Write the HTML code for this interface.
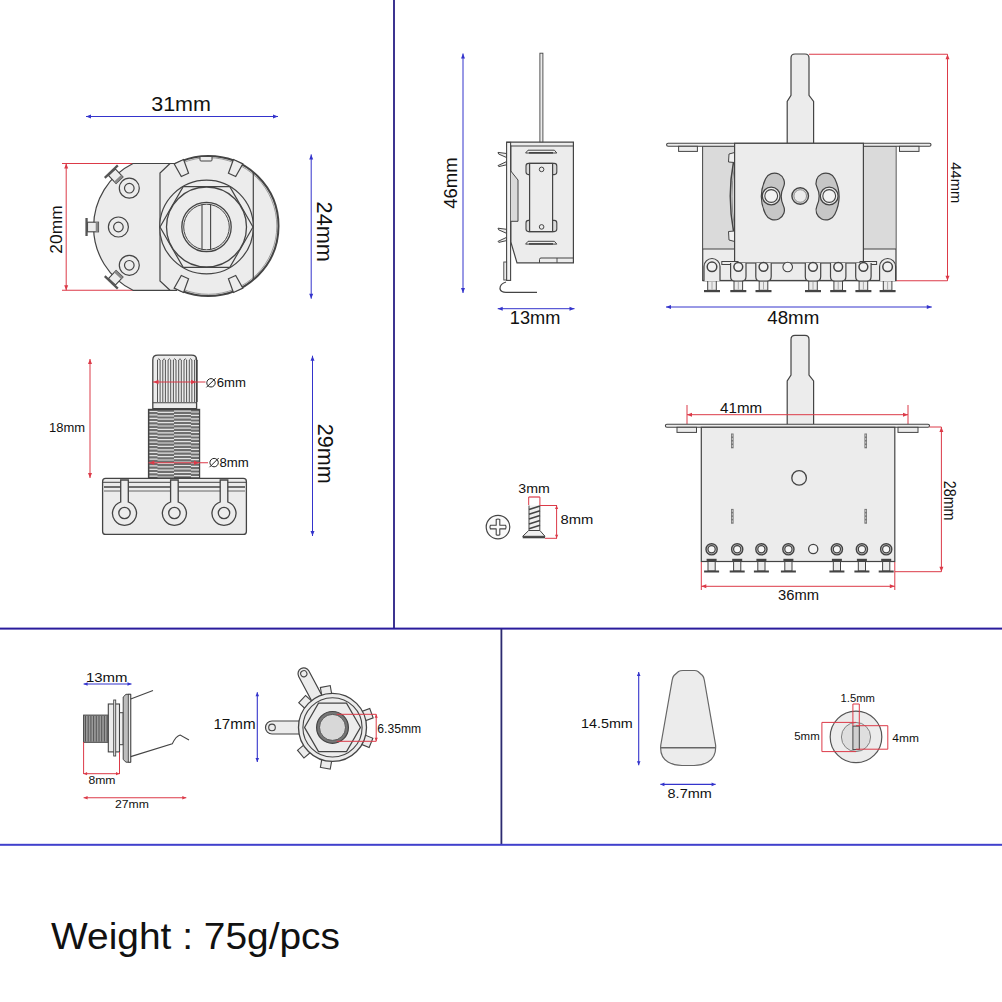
<!DOCTYPE html>
<html><head><meta charset="utf-8"><style>
html,body{margin:0;padding:0;background:#fff;}
svg{display:block;}
text{font-family:"Liberation Sans",sans-serif;}
</style></head><body>
<svg width="1002" height="1002" viewBox="0 0 1002 1002">
<rect width="1002" height="1002" fill="#fff"/>
<rect x="393" y="0" width="2" height="629" fill="#3c3490"/>
<rect x="0" y="627.6" width="1002" height="2" fill="#2a1c9c"/>
<rect x="500.5" y="629" width="1.8" height="216" fill="#2c2a70"/>
<rect x="0" y="843.8" width="1002" height="2" fill="#4040cc"/>
<line x1="86" y1="116.5" x2="278" y2="116.5" stroke="#3434cc" stroke-width="1.0"/>
<path d="M86,116.5 l5,-2.0 v4.0z M278,116.5 l-5,-2.0 v4.0z" fill="#3434cc"/>
<text x="151.2" y="110.9" font-size="21" text-anchor="start" fill="#111" textLength="59.8" lengthAdjust="spacingAndGlyphs">31mm</text>
<line x1="62" y1="163.5" x2="133" y2="163.5" stroke="#dc3a48" stroke-width="1.1"/>
<line x1="62" y1="290.3" x2="133" y2="290.3" stroke="#dc3a48" stroke-width="1.1"/>
<line x1="66.2" y1="163.5" x2="66.2" y2="290.3" stroke="#dc3a48" stroke-width="1.0"/>
<path d="M66.2,163.5 l-2.0,5 h4.0z M66.2,290.3 l-2.0,-5 h4.0z" fill="#dc3a48"/>
<text transform="translate(62,229.5) rotate(-90)" x="0" y="0" font-size="17.2" text-anchor="middle" fill="#111" textLength="48.3" lengthAdjust="spacingAndGlyphs">20mm</text>
<line x1="311.2" y1="154.4" x2="311.2" y2="298.7" stroke="#3434cc" stroke-width="1.0"/>
<path d="M311.2,154.4 l-2.0,5 h4.0z M311.2,298.7 l-2.0,-5 h4.0z" fill="#3434cc"/>
<text transform="translate(316.8,231.7) rotate(90)" x="0" y="0" font-size="22" text-anchor="middle" fill="#111" textLength="60.2" lengthAdjust="spacingAndGlyphs">24mm</text>
<circle cx="208.5" cy="226" r="70" fill="#ececec" stroke="#444444" stroke-width="2"/>
<circle cx="208.5" cy="226" r="68.3" fill="none" stroke="#888" stroke-width="0.8"/>
<path d="M177,163.5 L133,163.5 A70.7,70.7 0 0 0 133,290.3 L177,290.3 L177,163.5 Z" fill="#ececec" stroke="none"/>
<path d="M177,163.5 L133,163.5 A70.7,70.7 0 0 0 133,290.3 L177,290.3" fill="none" stroke="#444444" stroke-width="1.2"/>
<path d="M170,163.5 L160,173 L160,281 L170,290.3" fill="none" stroke="#444444" stroke-width="1.2"/>
<line x1="253.3" y1="172" x2="253.3" y2="280" stroke="#444444" stroke-width="1.2"/>
<g transform="translate(182.0,168.5) rotate(-24.700000000000003)"><path d="M-5.2,-7.5 L5.2,-7.5 L4,7 L-4,7 Z" fill="#ececec" stroke="#444444" stroke-width="1.2"/></g>
<g transform="translate(235.0,168.5) rotate(24.700000000000003)"><path d="M-5.2,-7.5 L5.2,-7.5 L4,7 L-4,7 Z" fill="#ececec" stroke="#444444" stroke-width="1.2"/></g>
<g transform="translate(182.0,283.5) rotate(204.7)"><path d="M-5.2,-7.5 L5.2,-7.5 L4,7 L-4,7 Z" fill="#ececec" stroke="#444444" stroke-width="1.2"/></g>
<g transform="translate(235.0,283.5) rotate(155.3)"><path d="M-5.2,-7.5 L5.2,-7.5 L4,7 L-4,7 Z" fill="#ececec" stroke="#444444" stroke-width="1.2"/></g>
<path d="M200,157 L200,160 Q200,161 201,161 L211,161 Q212,161 212,160 L212,157" fill="#ececec" stroke="#444444" stroke-width="1"/>
<circle cx="206.5" cy="227" r="46.8" fill="#ececec" stroke="#444444" stroke-width="1.2"/>
<polygon points="253.0,227.0 229.8,267.3 183.2,267.3 160.0,227.0 183.2,186.7 229.8,186.7" fill="#ececec" stroke="#444444" stroke-width="1.2"/>
<circle cx="206.5" cy="227" r="40" fill="#ececec" stroke="#444444" stroke-width="1.3"/>
<circle cx="206.5" cy="227" r="24.7" fill="#ececec" stroke="#444444" stroke-width="1.3"/>
<circle cx="206.5" cy="227" r="22.8" fill="none" stroke="#444444" stroke-width="1"/>
<line x1="202" y1="204.5" x2="202" y2="249.5" stroke="#444444" stroke-width="1.1"/>
<line x1="210.6" y1="204.5" x2="210.6" y2="249.5" stroke="#444444" stroke-width="1.1"/>
<circle cx="129.3" cy="188.2" r="10" fill="#ececec" stroke="#444444" stroke-width="1.2"/>
<circle cx="129.3" cy="188.2" r="4.8" fill="#ececec" stroke="#444444" stroke-width="1.2"/>
<circle cx="118.4" cy="227" r="10" fill="#ececec" stroke="#444444" stroke-width="1.2"/>
<circle cx="118.4" cy="227" r="4.8" fill="#ececec" stroke="#444444" stroke-width="1.2"/>
<circle cx="129.3" cy="265.3" r="10" fill="#ececec" stroke="#444444" stroke-width="1.2"/>
<circle cx="129.3" cy="265.3" r="4.8" fill="#ececec" stroke="#444444" stroke-width="1.2"/>
<g transform="translate(86.7,227) rotate(0)"><rect x="0.8" y="-4.8" width="11" height="9.6" fill="#ececec" stroke="#444444" stroke-width="1.1"/><rect x="9" y="-4.8" width="2.8" height="9.6" fill="#888"/><rect x="-1.3" y="-9" width="2.3" height="18" fill="#555"/></g>
<g transform="translate(111.4,171.7) rotate(46.4)"><rect x="0.8" y="-4.8" width="11" height="9.6" fill="#ececec" stroke="#444444" stroke-width="1.1"/><rect x="9" y="-4.8" width="2.8" height="9.6" fill="#888"/><rect x="-1.3" y="-9" width="2.3" height="18" fill="#555"/></g>
<g transform="translate(111.4,282.3) rotate(-46.4)"><rect x="0.8" y="-4.8" width="11" height="9.6" fill="#ececec" stroke="#444444" stroke-width="1.1"/><rect x="9" y="-4.8" width="2.8" height="9.6" fill="#888"/><rect x="-1.3" y="-9" width="2.3" height="18" fill="#555"/></g>
<line x1="90" y1="359" x2="90" y2="478" stroke="#dc3a48" stroke-width="1.0"/>
<path d="M90,359 l-2.0,5 h4.0z M90,478 l-2.0,-5 h4.0z" fill="#dc3a48"/>
<text x="49" y="431.5" font-size="13.3" text-anchor="start" fill="#111" textLength="36" lengthAdjust="spacingAndGlyphs">18mm</text>
<line x1="312.5" y1="355.7" x2="312.5" y2="536" stroke="#3434cc" stroke-width="1.0"/>
<path d="M312.5,355.7 l-2.0,5 h4.0z M312.5,536 l-2.0,-5 h4.0z" fill="#3434cc"/>
<text transform="translate(318.4,453.7) rotate(90)" x="0" y="0" font-size="22" text-anchor="middle" fill="#111" textLength="59.8" lengthAdjust="spacingAndGlyphs">29mm</text>
<path d="M152.8,408.7 L152.8,360 Q152.8,355.2 157.8,355.2 L191.6,355.2 Q196.6,355.2 196.6,360 L196.6,408.7 Z" fill="#ececec" stroke="#444444" stroke-width="1.3"/>
<path d="M157.5,402 L157.5,360 Q158.8,357.5 160.1,360 L160.1,402" fill="none" stroke="#444444" stroke-width="0.9"/>
<path d="M162.8,402 L162.8,360 Q164.1,357.5 165.4,360 L165.4,402" fill="none" stroke="#444444" stroke-width="0.9"/>
<path d="M168.1,402 L168.1,360 Q169.4,357.5 170.7,360 L170.7,402" fill="none" stroke="#444444" stroke-width="0.9"/>
<path d="M173.4,402 L173.4,360 Q174.7,357.5 176.0,360 L176.0,402" fill="none" stroke="#444444" stroke-width="0.9"/>
<path d="M178.7,402 L178.7,360 Q180.0,357.5 181.3,360 L181.3,402" fill="none" stroke="#444444" stroke-width="0.9"/>
<path d="M184.0,402 L184.0,360 Q185.3,357.5 186.6,360 L186.6,402" fill="none" stroke="#444444" stroke-width="0.9"/>
<path d="M189.3,402 L189.3,360 Q190.6,357.5 191.9,360 L191.9,402" fill="none" stroke="#444444" stroke-width="0.9"/>
<path d="M194.6,402 L194.6,360 Q195.9,357.5 197.2,360 L197.2,402" fill="none" stroke="#444444" stroke-width="0.9"/>
<line x1="152.8" y1="402.7" x2="196.6" y2="402.7" stroke="#444444" stroke-width="1.1"/>
<rect x="148.6" y="409.5" width="50.9" height="68.5" fill="#6e6e6e" stroke="#444444" stroke-width="1.4"/>
<path d="M149.5,411.5 H157.5 M157.5,412.4 H174 M174,411.1 H191 M191,412.0 H199" fill="none" stroke="#e2e2e2" stroke-width="1.2"/>
<path d="M149.5,414.9 H157.5 M157.5,415.8 H174 M174,414.5 H191 M191,415.4 H199" fill="none" stroke="#e2e2e2" stroke-width="1.2"/>
<path d="M149.5,418.3 H157.5 M157.5,419.2 H174 M174,417.9 H191 M191,418.8 H199" fill="none" stroke="#e2e2e2" stroke-width="1.2"/>
<path d="M149.5,421.7 H157.5 M157.5,422.6 H174 M174,421.3 H191 M191,422.2 H199" fill="none" stroke="#e2e2e2" stroke-width="1.2"/>
<path d="M149.5,425.1 H157.5 M157.5,426.0 H174 M174,424.7 H191 M191,425.6 H199" fill="none" stroke="#e2e2e2" stroke-width="1.2"/>
<path d="M149.5,428.5 H157.5 M157.5,429.4 H174 M174,428.1 H191 M191,429.0 H199" fill="none" stroke="#e2e2e2" stroke-width="1.2"/>
<path d="M149.5,431.9 H157.5 M157.5,432.8 H174 M174,431.5 H191 M191,432.4 H199" fill="none" stroke="#e2e2e2" stroke-width="1.2"/>
<path d="M149.5,435.3 H157.5 M157.5,436.2 H174 M174,434.9 H191 M191,435.8 H199" fill="none" stroke="#e2e2e2" stroke-width="1.2"/>
<path d="M149.5,438.7 H157.5 M157.5,439.6 H174 M174,438.3 H191 M191,439.2 H199" fill="none" stroke="#e2e2e2" stroke-width="1.2"/>
<path d="M149.5,442.1 H157.5 M157.5,443.0 H174 M174,441.7 H191 M191,442.6 H199" fill="none" stroke="#e2e2e2" stroke-width="1.2"/>
<path d="M149.5,445.5 H157.5 M157.5,446.4 H174 M174,445.1 H191 M191,446.0 H199" fill="none" stroke="#e2e2e2" stroke-width="1.2"/>
<path d="M149.5,448.9 H157.5 M157.5,449.8 H174 M174,448.5 H191 M191,449.4 H199" fill="none" stroke="#e2e2e2" stroke-width="1.2"/>
<path d="M149.5,452.3 H157.5 M157.5,453.2 H174 M174,451.9 H191 M191,452.8 H199" fill="none" stroke="#e2e2e2" stroke-width="1.2"/>
<path d="M149.5,455.7 H157.5 M157.5,456.6 H174 M174,455.3 H191 M191,456.2 H199" fill="none" stroke="#e2e2e2" stroke-width="1.2"/>
<path d="M149.5,459.1 H157.5 M157.5,460.0 H174 M174,458.7 H191 M191,459.6 H199" fill="none" stroke="#e2e2e2" stroke-width="1.2"/>
<path d="M149.5,462.5 H157.5 M157.5,463.4 H174 M174,462.1 H191 M191,463.0 H199" fill="none" stroke="#e2e2e2" stroke-width="1.2"/>
<path d="M149.5,465.9 H157.5 M157.5,466.8 H174 M174,465.5 H191 M191,466.4 H199" fill="none" stroke="#e2e2e2" stroke-width="1.2"/>
<path d="M149.5,469.3 H157.5 M157.5,470.2 H174 M174,468.9 H191 M191,469.8 H199" fill="none" stroke="#e2e2e2" stroke-width="1.2"/>
<path d="M149.5,472.7 H157.5 M157.5,473.6 H174 M174,472.3 H191 M191,473.2 H199" fill="none" stroke="#e2e2e2" stroke-width="1.2"/>
<path d="M149.5,476.1 H157.5 M157.5,477.0 H174 M174,475.7 H191 M191,476.6 H199" fill="none" stroke="#e2e2e2" stroke-width="1.2"/>
<rect x="102.6" y="478.4" width="143.8" height="56" rx="3" fill="#ececec" stroke="#444444" stroke-width="1.3"/>
<line x1="102.6" y1="482.3" x2="246.4" y2="482.3" stroke="#444444" stroke-width="1"/>
<line x1="104" y1="487" x2="245" y2="487" stroke="#444444" stroke-width="1.6"/>
<line x1="104" y1="491" x2="245" y2="491" stroke="#444444" stroke-width="0.8"/>
<path d="M120.7,480 L120.7,502 A12,12 0 1 0 128.3,502 L128.3,480 Z" fill="#ececec" stroke="#444444" stroke-width="1.3"/>
<circle cx="124.5" cy="513" r="5.7" fill="#ececec" stroke="#444444" stroke-width="1.3"/>
<path d="M170.6,480 L170.6,502 A12,12 0 1 0 178.20000000000002,502 L178.20000000000002,480 Z" fill="#ececec" stroke="#444444" stroke-width="1.3"/>
<circle cx="174.4" cy="513" r="5.7" fill="#ececec" stroke="#444444" stroke-width="1.3"/>
<path d="M220.2,480 L220.2,502 A12,12 0 1 0 227.8,502 L227.8,480 Z" fill="#ececec" stroke="#444444" stroke-width="1.3"/>
<circle cx="224" cy="513" r="5.7" fill="#ececec" stroke="#444444" stroke-width="1.3"/>
<line x1="152.8" y1="382" x2="205.5" y2="382" stroke="#dc3a48" stroke-width="1.1"/>
<path d="M153.5,382 l5,-2.2 v4.4z M196,382 l-5,-2.2 v4.4z" fill="#dc3a48"/>
<circle cx="211" cy="382.8" r="4.2" fill="none" stroke="#222" stroke-width="1"/>
<line x1="206.4" y1="387.40000000000003" x2="215.6" y2="378.2" stroke="#222" stroke-width="1"/>
<text x="216.8" y="387.3" font-size="12.3" text-anchor="start" fill="#111" textLength="29.2" lengthAdjust="spacingAndGlyphs">6mm</text>
<line x1="148.6" y1="462.7" x2="208" y2="462.7" stroke="#dc3a48" stroke-width="1.1"/>
<path d="M149.3,462.7 l5,-2.2 v4.4z M199,462.7 l-5,-2.2 v4.4z" fill="#dc3a48"/>
<circle cx="214.1" cy="462.6" r="4.2" fill="none" stroke="#222" stroke-width="1"/>
<line x1="209.5" y1="467.20000000000005" x2="218.7" y2="458.0" stroke="#222" stroke-width="1"/>
<text x="219.4" y="466.8" font-size="12.3" text-anchor="start" fill="#111" textLength="29.3" lengthAdjust="spacingAndGlyphs">8mm</text>
<line x1="463" y1="53.5" x2="463" y2="293" stroke="#3434cc" stroke-width="1.0"/>
<path d="M463,53.5 l-2.0,5 h4.0z M463,293 l-2.0,-5 h4.0z" fill="#3434cc"/>
<text transform="translate(457,183.1) rotate(-90)" x="0" y="0" font-size="18" text-anchor="middle" fill="#111" textLength="51.2" lengthAdjust="spacingAndGlyphs">46mm</text>
<line x1="497.7" y1="308.7" x2="574.5" y2="308.7" stroke="#3434cc" stroke-width="1.0"/>
<path d="M497.7,308.7 l5,-2.0 v4.0z M574.5,308.7 l-5,-2.0 v4.0z" fill="#3434cc"/>
<text x="509.8" y="324.4" font-size="17.6" text-anchor="start" fill="#111" textLength="50.5" lengthAdjust="spacingAndGlyphs">13mm</text>
<rect x="539.9" y="53.2" width="3" height="89.5" fill="#ececec" stroke="#444444" stroke-width="0.9"/>
<path d="M506.5,153.5 L498,152.4 L498.6,154 L506.5,157.5 Z" fill="#ececec" stroke="#444444" stroke-width="1"/>
<path d="M506.5,161.6 L498,165.6 L498.8,166.6 L506.5,164.8 Z" fill="#ececec" stroke="#444444" stroke-width="1"/>
<path d="M506.5,229.3 L498,228.2 L498.6,229.8 L506.5,233.3 Z" fill="#ececec" stroke="#444444" stroke-width="1"/>
<path d="M506.5,237.39999999999998 L498,241.39999999999998 L498.8,242.39999999999998 L506.5,240.60000000000002 Z" fill="#ececec" stroke="#444444" stroke-width="1"/>
<path d="M506.8,142.2 L573.4,142.2 L573.4,262.8 L517,262.8 L510.8,242 L510.8,146.2 L506.8,146.2 Z" fill="#ececec" stroke="#444444" stroke-width="1.2"/>
<line x1="506.8" y1="146" x2="573.4" y2="146" stroke="#444444" stroke-width="1.1"/>
<rect x="506.6" y="142.4" width="4" height="138" fill="#f4f4f4" stroke="#444444" stroke-width="1.1"/>
<path d="M510.8,171 L518,180 L518,221.3 L510.8,221.3" fill="#dadada" stroke="#444444" stroke-width="1"/>
<path d="M528,150.2 L554.4,150.2 L556.8,153.0 L525.6,153.0 Z" fill="#f0f0f0" stroke="#444444" stroke-width="1"/>
<line x1="529" y1="152.79999999999998" x2="553" y2="152.79999999999998" stroke="#444444" stroke-width="1.6"/>
<path d="M528,241.3 L554.4,241.3 L556.8,244.10000000000002 L525.6,244.10000000000002 Z" fill="#f0f0f0" stroke="#444444" stroke-width="1"/>
<line x1="529" y1="243.9" x2="553" y2="243.9" stroke="#444444" stroke-width="1.6"/>
<rect x="526" y="163.4" width="30.8" height="11.2" rx="2.5" fill="#dadada" stroke="#444444" stroke-width="1.1"/>
<rect x="526" y="220.4" width="30.8" height="11.2" rx="2.5" fill="#dadada" stroke="#444444" stroke-width="1.1"/>
<rect x="529.6" y="163.4" width="23" height="68.2" fill="#ececec" stroke="#444444" stroke-width="1.2"/>
<circle cx="541.6" cy="169.4" r="2.3" fill="#ececec" stroke="#444444" stroke-width="1"/>
<circle cx="541.6" cy="226.9" r="2.3" fill="#ececec" stroke="#444444" stroke-width="1"/>
<path d="M539.5,262.8 L539.5,259.5 Q539.5,258 541,258 L573.4,258" fill="none" stroke="#444444" stroke-width="1"/>
<line x1="557" y1="258" x2="557" y2="262.8" stroke="#444444" stroke-width="0.9"/>
<rect x="503.8" y="262" width="2.8" height="18" fill="#ececec" stroke="#444444" stroke-width="0.9"/>
<path d="M506,282 Q499.6,284 500,289 Q501,292.3 506,292.3 L537,292.3" fill="none" stroke="#444444" stroke-width="1.2"/>
<line x1="809" y1="54.3" x2="947.5" y2="54.3" stroke="#dc3a48" stroke-width="1.1"/>
<line x1="896" y1="280.8" x2="947.5" y2="280.8" stroke="#dc3a48" stroke-width="1.1"/>
<line x1="947.5" y1="54.3" x2="947.5" y2="280.8" stroke="#dc3a48" stroke-width="1.0"/>
<path d="M947.5,54.3 l-2.0,5 h4.0z M947.5,280.8 l-2.0,-5 h4.0z" fill="#dc3a48"/>
<text transform="translate(951.1,182.7) rotate(90)" x="0" y="0" font-size="15" text-anchor="middle" fill="#111" textLength="40.9" lengthAdjust="spacingAndGlyphs">44mm</text>
<line x1="666" y1="307" x2="931.8" y2="307" stroke="#3434cc" stroke-width="1.0"/>
<path d="M666,307 l5,-2.0 v4.0z M931.8,307 l-5,-2.0 v4.0z" fill="#3434cc"/>
<text x="767.3" y="323.8" font-size="17.6" text-anchor="start" fill="#111" textLength="52" lengthAdjust="spacingAndGlyphs">48mm</text>
<path d="M791,143.3 L791,95.4 L787.2,101.4 L787.2,143.3 Z" fill="#ececec"/>
<path d="M787.2,143.3 L787.2,101.4 L791,95.4 L791,58 Q791,54 795,54 L805,54 Q809,54 809,58 L809,95.4 L813.6,101.4 L813.6,143.3" fill="#ececec" stroke="#444444" stroke-width="1.2"/>
<rect x="702.7" y="146" width="193.3" height="134.5" fill="#ececec" stroke="#444444" stroke-width="1.2"/>
<rect x="703.5" y="147" width="31" height="102" fill="#dadada"/>
<rect x="863.5" y="147" width="32" height="102" fill="#dadada"/>
<line x1="702.7" y1="249" x2="734.6" y2="249" stroke="#444444" stroke-width="1"/>
<line x1="863.4" y1="249" x2="896" y2="249" stroke="#444444" stroke-width="1"/>
<rect x="666.6" y="143.3" width="264.4" height="3" rx="1.5" fill="#ececec" stroke="#444444" stroke-width="1.1"/>
<rect x="678.6" y="146.3" width="18.8" height="5.1" fill="#ececec" stroke="#444444" stroke-width="1"/>
<rect x="899.5" y="146.3" width="19.5" height="5.1" fill="#ececec" stroke="#444444" stroke-width="1"/>
<path d="M733.5,162 Q727,196 733.5,231" fill="none" stroke="#444444" stroke-width="1.5"/>
<path d="M734.5,165 Q729.5,196 734.5,228" fill="none" stroke="#888" stroke-width="0.9"/>
<path d="M734.6,152.5 L729,154 L728.5,162 L734.6,162.5 Z" fill="#f0f0f0" stroke="#444444" stroke-width="1"/>
<path d="M734.6,231 L728.5,231.5 L729,240 L734.6,241.5 Z" fill="#f0f0f0" stroke="#444444" stroke-width="1"/>
<rect x="734.6" y="143.3" width="128.8" height="119.7" fill="#ececec" stroke="#444444" stroke-width="1.2"/>
<path d="M774.5,183 Q768,196.5 774.5,210" fill="none" stroke="#444444" stroke-width="21" stroke-linecap="round"/>
<path d="M774.5,183 Q768,196.5 774.5,210" fill="none" stroke="#c6c6c6" stroke-width="18.6" stroke-linecap="round"/>
<path d="M825.9,183 Q832.4,196.5 825.9,210" fill="none" stroke="#444444" stroke-width="21" stroke-linecap="round"/>
<path d="M825.9,183 Q832.4,196.5 825.9,210" fill="none" stroke="#c6c6c6" stroke-width="18.6" stroke-linecap="round"/>
<circle cx="771.2" cy="196" r="8.9" fill="#ececec" stroke="#444444" stroke-width="1.3"/>
<circle cx="771.2" cy="196" r="6.4" fill="#f2f2f2" stroke="#444444" stroke-width="1.1"/>
<circle cx="829.2" cy="196" r="8.9" fill="#ececec" stroke="#444444" stroke-width="1.3"/>
<circle cx="829.2" cy="196" r="6.4" fill="#f2f2f2" stroke="#444444" stroke-width="1.1"/>
<circle cx="800.2" cy="196" r="8.3" fill="#dadada" stroke="#444444" stroke-width="1.4"/>
<circle cx="800.2" cy="196" r="6.3" fill="#ececec" stroke="#777" stroke-width="0.8"/>
<rect x="721.8" y="261.5" width="16.2" height="3" fill="#ececec" stroke="#444444" stroke-width="1"/>
<rect x="860" y="261.5" width="16.6" height="3" fill="#ececec" stroke="#444444" stroke-width="1"/>
<line x1="702.7" y1="280.8" x2="896" y2="280.8" stroke="#444444" stroke-width="1.1"/>
<rect x="707.7" y="280.8" width="8.6" height="9.5" fill="#ececec" stroke="#444444" stroke-width="1"/>
<line x1="712" y1="282" x2="712" y2="289.5" stroke="#999" stroke-width="0.8"/>
<rect x="704" y="290" width="16" height="2.2" fill="#444444"/>
<path d="M704,281 L704,266.5 A8,8 0 0 1 720,266.5 L720,281" fill="#ececec" stroke="#444444" stroke-width="1.2"/>
<circle cx="712" cy="266.8" r="4.8" fill="#f2f2f2" stroke="#444444" stroke-width="1.5"/>
<rect x="734.0" y="280.8" width="8.6" height="9.5" fill="#ececec" stroke="#444444" stroke-width="1"/>
<line x1="738.3" y1="282" x2="738.3" y2="289.5" stroke="#999" stroke-width="0.8"/>
<rect x="730.3" y="290" width="16" height="2.2" fill="#444444"/>
<path d="M730.5999999999999,263 L730.5999999999999,276.5 Q730.5999999999999,281 734.8,281 L741.8,281 Q746.0,281 746.0,276.5 L746.0,263" fill="#ececec" stroke="#444444" stroke-width="1.2"/>
<circle cx="738.3" cy="266.8" r="4.4" fill="#f2f2f2" stroke="#444444" stroke-width="1.5"/>
<rect x="759.2" y="280.8" width="8.6" height="9.5" fill="#ececec" stroke="#444444" stroke-width="1"/>
<line x1="763.5" y1="282" x2="763.5" y2="289.5" stroke="#999" stroke-width="0.8"/>
<rect x="755.5" y="290" width="16" height="2.2" fill="#444444"/>
<path d="M755.8,263 L755.8,276.5 Q755.8,281 760.0,281 L767.0,281 Q771.2,281 771.2,276.5 L771.2,263" fill="#ececec" stroke="#444444" stroke-width="1.2"/>
<circle cx="763.5" cy="266.8" r="4.4" fill="#f2f2f2" stroke="#444444" stroke-width="1.5"/>
<rect x="808.7" y="280.8" width="8.6" height="9.5" fill="#ececec" stroke="#444444" stroke-width="1"/>
<line x1="813" y1="282" x2="813" y2="289.5" stroke="#999" stroke-width="0.8"/>
<rect x="805" y="290" width="16" height="2.2" fill="#444444"/>
<path d="M805.3,263 L805.3,276.5 Q805.3,281 809.5,281 L816.5,281 Q820.7,281 820.7,276.5 L820.7,263" fill="#ececec" stroke="#444444" stroke-width="1.2"/>
<circle cx="813" cy="266.8" r="4.4" fill="#f2f2f2" stroke="#444444" stroke-width="1.5"/>
<rect x="833.9000000000001" y="280.8" width="8.6" height="9.5" fill="#ececec" stroke="#444444" stroke-width="1"/>
<line x1="838.2" y1="282" x2="838.2" y2="289.5" stroke="#999" stroke-width="0.8"/>
<rect x="830.2" y="290" width="16" height="2.2" fill="#444444"/>
<path d="M830.5,263 L830.5,276.5 Q830.5,281 834.7,281 L841.7,281 Q845.9000000000001,281 845.9000000000001,276.5 L845.9000000000001,263" fill="#ececec" stroke="#444444" stroke-width="1.2"/>
<circle cx="838.2" cy="266.8" r="4.4" fill="#f2f2f2" stroke="#444444" stroke-width="1.5"/>
<rect x="859.1" y="280.8" width="8.6" height="9.5" fill="#ececec" stroke="#444444" stroke-width="1"/>
<line x1="863.4" y1="282" x2="863.4" y2="289.5" stroke="#999" stroke-width="0.8"/>
<rect x="855.4" y="290" width="16" height="2.2" fill="#444444"/>
<path d="M855.6999999999999,263 L855.6999999999999,276.5 Q855.6999999999999,281 859.9,281 L866.9,281 Q871.1,281 871.1,276.5 L871.1,263" fill="#ececec" stroke="#444444" stroke-width="1.2"/>
<circle cx="863.4" cy="266.8" r="4.4" fill="#f2f2f2" stroke="#444444" stroke-width="1.5"/>
<rect x="883.3000000000001" y="280.8" width="8.6" height="9.5" fill="#ececec" stroke="#444444" stroke-width="1"/>
<line x1="887.6" y1="282" x2="887.6" y2="289.5" stroke="#999" stroke-width="0.8"/>
<rect x="879.6" y="290" width="16" height="2.2" fill="#444444"/>
<path d="M879.6,281 L879.6,266.5 A8,8 0 0 1 895.6,266.5 L895.6,281" fill="#ececec" stroke="#444444" stroke-width="1.2"/>
<circle cx="887.6" cy="266.8" r="4.8" fill="#f2f2f2" stroke="#444444" stroke-width="1.5"/>
<circle cx="787.7" cy="267" r="4.8" fill="#f2f2f2" stroke="#444444" stroke-width="1.1"/>
<path d="M791,424.3 L791,375 L787.2,381 L787.2,424.3 Z" fill="#ececec"/>
<path d="M787.2,424.3 L787.2,381 L791,375 L791,339.4 Q791,335.4 795,335.4 L805,335.4 Q809,335.4 809,339.4 L809,375 L813.6,381 L813.6,424.3" fill="#ececec" stroke="#444444" stroke-width="1.2"/>
<line x1="687" y1="405" x2="687" y2="424" stroke="#dc3a48" stroke-width="1"/>
<line x1="908" y1="405" x2="908" y2="424" stroke="#dc3a48" stroke-width="1"/>
<line x1="687" y1="414.7" x2="908" y2="414.7" stroke="#dc3a48" stroke-width="1.0"/>
<path d="M687,414.7 l5,-2.0 v4.0z M908,414.7 l-5,-2.0 v4.0z" fill="#dc3a48"/>
<text x="720.1" y="412.7" font-size="14.7" text-anchor="start" fill="#111" textLength="42" lengthAdjust="spacingAndGlyphs">41mm</text>
<rect x="665.4" y="424.3" width="264.1" height="3" rx="1.5" fill="#ececec" stroke="#444444" stroke-width="1.1"/>
<rect x="677" y="427.3" width="19.5" height="5.1" fill="#ececec" stroke="#444444" stroke-width="1"/>
<rect x="898" y="427.3" width="20" height="5.1" fill="#ececec" stroke="#444444" stroke-width="1"/>
<rect x="701.3" y="427.3" width="193.5" height="134.2" fill="#ececec" stroke="#444444" stroke-width="1.2"/>
<rect x="731.0" y="433.5" width="2.6" height="14.8" fill="#777"/>
<line x1="732.3" y1="434.5" x2="732.3" y2="447.3" stroke="#ddd" stroke-width="0.8" stroke-dasharray="2,1.5"/>
<rect x="731.0" y="508.9" width="2.6" height="14.8" fill="#777"/>
<line x1="732.3" y1="509.9" x2="732.3" y2="522.7" stroke="#ddd" stroke-width="0.8" stroke-dasharray="2,1.5"/>
<rect x="864.4000000000001" y="433.5" width="2.6" height="14.8" fill="#777"/>
<line x1="865.7" y1="434.5" x2="865.7" y2="447.3" stroke="#ddd" stroke-width="0.8" stroke-dasharray="2,1.5"/>
<rect x="864.4000000000001" y="508.9" width="2.6" height="14.8" fill="#777"/>
<line x1="865.7" y1="509.9" x2="865.7" y2="522.7" stroke="#ddd" stroke-width="0.8" stroke-dasharray="2,1.5"/>
<circle cx="799.1" cy="477.9" r="7.3" fill="#ececec" stroke="#444444" stroke-width="1.3"/>
<circle cx="711.6" cy="549.3" r="5.6" fill="#c8c8c8" stroke="#444444" stroke-width="1.4"/>
<circle cx="711.6" cy="549.3" r="3.6" fill="#f6f6f6" stroke="#444444" stroke-width="1.2"/>
<rect x="708.0" y="561.5" width="7.2" height="9.5" fill="#ececec" stroke="#444444" stroke-width="1"/>
<rect x="706.6" y="558.8" width="10" height="2.6" fill="#444444"/>
<rect x="704.1" y="570.5" width="15" height="2" fill="#444444"/>
<circle cx="737.2" cy="549.3" r="5.6" fill="#c8c8c8" stroke="#444444" stroke-width="1.4"/>
<circle cx="737.2" cy="549.3" r="3.6" fill="#f6f6f6" stroke="#444444" stroke-width="1.2"/>
<rect x="733.6" y="561.5" width="7.2" height="9.5" fill="#ececec" stroke="#444444" stroke-width="1"/>
<rect x="732.2" y="558.8" width="10" height="2.6" fill="#444444"/>
<rect x="729.7" y="570.5" width="15" height="2" fill="#444444"/>
<circle cx="761.4" cy="549.3" r="5.6" fill="#c8c8c8" stroke="#444444" stroke-width="1.4"/>
<circle cx="761.4" cy="549.3" r="3.6" fill="#f6f6f6" stroke="#444444" stroke-width="1.2"/>
<rect x="757.8" y="561.5" width="7.2" height="9.5" fill="#ececec" stroke="#444444" stroke-width="1"/>
<rect x="756.4" y="558.8" width="10" height="2.6" fill="#444444"/>
<rect x="753.9" y="570.5" width="15" height="2" fill="#444444"/>
<circle cx="788.4" cy="549.3" r="5.6" fill="#c8c8c8" stroke="#444444" stroke-width="1.4"/>
<circle cx="788.4" cy="549.3" r="3.6" fill="#f6f6f6" stroke="#444444" stroke-width="1.2"/>
<rect x="784.8" y="561.5" width="7.2" height="9.5" fill="#ececec" stroke="#444444" stroke-width="1"/>
<rect x="783.4" y="558.8" width="10" height="2.6" fill="#444444"/>
<rect x="780.9" y="570.5" width="15" height="2" fill="#444444"/>
<circle cx="836.9" cy="549.3" r="5.6" fill="#c8c8c8" stroke="#444444" stroke-width="1.4"/>
<circle cx="836.9" cy="549.3" r="3.6" fill="#f6f6f6" stroke="#444444" stroke-width="1.2"/>
<rect x="833.3" y="561.5" width="7.2" height="9.5" fill="#ececec" stroke="#444444" stroke-width="1"/>
<rect x="831.9" y="558.8" width="10" height="2.6" fill="#444444"/>
<rect x="829.4" y="570.5" width="15" height="2" fill="#444444"/>
<circle cx="861.9" cy="549.3" r="5.6" fill="#c8c8c8" stroke="#444444" stroke-width="1.4"/>
<circle cx="861.9" cy="549.3" r="3.6" fill="#f6f6f6" stroke="#444444" stroke-width="1.2"/>
<rect x="858.3" y="561.5" width="7.2" height="9.5" fill="#ececec" stroke="#444444" stroke-width="1"/>
<rect x="856.9" y="558.8" width="10" height="2.6" fill="#444444"/>
<rect x="854.4" y="570.5" width="15" height="2" fill="#444444"/>
<circle cx="886.2" cy="549.3" r="5.6" fill="#c8c8c8" stroke="#444444" stroke-width="1.4"/>
<circle cx="886.2" cy="549.3" r="3.6" fill="#f6f6f6" stroke="#444444" stroke-width="1.2"/>
<rect x="882.6" y="561.5" width="7.2" height="9.5" fill="#ececec" stroke="#444444" stroke-width="1"/>
<rect x="881.2" y="558.8" width="10" height="2.6" fill="#444444"/>
<rect x="878.7" y="570.5" width="15" height="2" fill="#444444"/>
<circle cx="813.2" cy="549" r="4.6" fill="#f4f4f4" stroke="#444444" stroke-width="1.3"/>
<line x1="929.5" y1="427" x2="941.4" y2="427" stroke="#dc3a48" stroke-width="1"/>
<line x1="895" y1="571.7" x2="941.4" y2="571.7" stroke="#dc3a48" stroke-width="1"/>
<line x1="941.4" y1="427" x2="941.4" y2="571.7" stroke="#dc3a48" stroke-width="1.0"/>
<path d="M941.4,427 l-2.0,5 h4.0z M941.4,571.7 l-2.0,-5 h4.0z" fill="#dc3a48"/>
<text transform="translate(943.8,500.6) rotate(90)" x="0" y="0" font-size="15.9" text-anchor="middle" fill="#111" textLength="39.9" lengthAdjust="spacingAndGlyphs">28mm</text>
<line x1="701.3" y1="562" x2="701.3" y2="590" stroke="#dc3a48" stroke-width="1"/>
<line x1="894.8" y1="562" x2="894.8" y2="590" stroke="#dc3a48" stroke-width="1"/>
<line x1="701.3" y1="586.3" x2="894.8" y2="586.3" stroke="#dc3a48" stroke-width="1.0"/>
<path d="M701.3,586.3 l5,-2.0 v4.0z M894.8,586.3 l-5,-2.0 v4.0z" fill="#dc3a48"/>
<text x="778.1" y="599.8" font-size="13.8" text-anchor="start" fill="#111" textLength="41" lengthAdjust="spacingAndGlyphs">36mm</text>
<circle cx="498" cy="527.1" r="11.8" fill="#fafafa" stroke="#444444" stroke-width="1.2"/>
<path d="M496.2,519.5 Q498,518.5 499.8,519.5 L499.8,525.3 L505.6,525.3 Q506.6,527.1 505.6,528.9 L499.8,528.9 L499.8,534.7 Q498,535.7 496.2,534.7 L496.2,528.9 L490.4,528.9 Q489.4,527.1 490.4,525.3 L496.2,525.3 Z" fill="#fafafa" stroke="#444444" stroke-width="1.1" stroke-linejoin="round"/>
<rect x="529.5" y="505.5" width="10" height="25" fill="#f0f0f0"/>
<path d="M529,509.5 L540,506.0" stroke="#444444" stroke-width="1.6"/>
<path d="M529,514.3 L540,510.8" stroke="#444444" stroke-width="1.6"/>
<path d="M529,519.1 L540,515.6" stroke="#444444" stroke-width="1.6"/>
<path d="M529,523.9 L540,520.4" stroke="#444444" stroke-width="1.6"/>
<path d="M529,528.7 L540,525.2" stroke="#444444" stroke-width="1.6"/>
<line x1="529" y1="505.5" x2="529" y2="530.5" stroke="#444444" stroke-width="1"/>
<line x1="539.8" y1="505.5" x2="539.8" y2="530.5" stroke="#444444" stroke-width="1"/>
<path d="M528.7,530.5 L539.9,530.5 L545,536.3 L522.7,536.3 Z" fill="#f0f0f0" stroke="#444444" stroke-width="1"/>
<rect x="522.7" y="536.3" width="22.3" height="2" fill="#444444"/>
<line x1="528.7" y1="497" x2="528.7" y2="505" stroke="#dc3a48" stroke-width="1"/>
<line x1="539.9" y1="497" x2="539.9" y2="505" stroke="#dc3a48" stroke-width="1"/>
<line x1="528.7" y1="497" x2="539.9" y2="497" stroke="#dc3a48" stroke-width="1.2"/>
<text x="518.3" y="492.7" font-size="12.7" text-anchor="start" fill="#111" textLength="31.5" lengthAdjust="spacingAndGlyphs">3mm</text>
<line x1="540" y1="505.5" x2="557" y2="505.5" stroke="#dc3a48" stroke-width="1"/>
<line x1="545" y1="538.3" x2="557" y2="538.3" stroke="#dc3a48" stroke-width="1"/>
<line x1="556.6" y1="505.5" x2="556.6" y2="538.3" stroke="#dc3a48" stroke-width="1"/>
<path d="M556.6,505.5 l-1.6,3.5 h3.2z M556.6,538.3 l-1.6,-3.5 h3.2z" fill="#dc3a48"/>
<text x="560.6" y="524" font-size="12.6" text-anchor="start" fill="#111" textLength="32.8" lengthAdjust="spacingAndGlyphs">8mm</text>
<line x1="83.6" y1="684" x2="131.5" y2="684" stroke="#3434cc" stroke-width="1.1"/>
<path d="M83.6,684 l4,-1.8 v3.6z M131.5,684 l-4,-1.8 v3.6z" fill="#3434cc"/>
<text x="86" y="681.6" font-size="12.7" text-anchor="start" fill="#111" textLength="41.5" lengthAdjust="spacingAndGlyphs">13mm</text>
<rect x="83.6" y="715.1" width="24.7" height="27.2" fill="#9a9a9a" stroke="#444444" stroke-width="1"/>
<line x1="85.5" y1="716" x2="85.5" y2="741.5" stroke="#444" stroke-width="0.8"/>
<line x1="88.2" y1="716" x2="88.2" y2="741.5" stroke="#444" stroke-width="0.8"/>
<line x1="90.9" y1="716" x2="90.9" y2="741.5" stroke="#444" stroke-width="0.8"/>
<line x1="93.6" y1="716" x2="93.6" y2="741.5" stroke="#444" stroke-width="0.8"/>
<line x1="96.3" y1="716" x2="96.3" y2="741.5" stroke="#444" stroke-width="0.8"/>
<line x1="99.0" y1="716" x2="99.0" y2="741.5" stroke="#444" stroke-width="0.8"/>
<line x1="101.7" y1="716" x2="101.7" y2="741.5" stroke="#444" stroke-width="0.8"/>
<line x1="104.4" y1="716" x2="104.4" y2="741.5" stroke="#444" stroke-width="0.8"/>
<line x1="107.1" y1="716" x2="107.1" y2="741.5" stroke="#444" stroke-width="0.8"/>
<rect x="108.3" y="704" width="11.2" height="47.9" fill="#ececec" stroke="#444444" stroke-width="1.1"/>
<rect x="113.7" y="700" width="2" height="56" fill="#ececec" stroke="#444444" stroke-width="0.9"/>
<rect x="119.5" y="712.7" width="3.7" height="32" fill="#ececec" stroke="#444444" stroke-width="1"/>
<path d="M123.2,697 L126,694.3 L130.7,694.3 L130.7,762.2 L126,762.2 L123.2,759.5 Z" fill="#bdbdbd" stroke="#444444" stroke-width="1"/>
<rect x="128.3" y="694.3" width="2.4" height="67.9" fill="#ececec" stroke="#444444" stroke-width="0.9"/>
<path d="M130.7,699 L153,690.4" fill="none" stroke="#444444" stroke-width="1.1"/>
<path d="M130.7,756.6 L172.2,743.9 Q176,736 180.2,735 L189,739.9" fill="none" stroke="#444444" stroke-width="1.1"/>
<line x1="83.6" y1="742" x2="83.6" y2="774" stroke="#dc3a48" stroke-width="1"/>
<line x1="119.5" y1="752" x2="119.5" y2="774" stroke="#dc3a48" stroke-width="1"/>
<line x1="83.6" y1="773.7" x2="119.5" y2="773.7" stroke="#dc3a48" stroke-width="1"/>
<path d="M83.6,773.7 l3.5,-1.6 v3.2z M119.5,773.7 l-3.5,-1.6 v3.2z" fill="#dc3a48"/>
<text x="88.4" y="784.3" font-size="10.8" text-anchor="start" fill="#111" textLength="27.1" lengthAdjust="spacingAndGlyphs">8mm</text>
<line x1="83.6" y1="797.7" x2="186.3" y2="797.7" stroke="#dc3a48" stroke-width="1.1"/>
<path d="M83.6,797.7 l4,-1.8 v3.6z M186.3,797.7 l-4,-1.8 v3.6z" fill="#dc3a48"/>
<text x="115" y="807.8" font-size="11.2" text-anchor="start" fill="#111" textLength="34" lengthAdjust="spacingAndGlyphs">27mm</text>
<line x1="257.3" y1="692.3" x2="257.3" y2="761.9" stroke="#3434cc" stroke-width="1.1"/>
<path d="M257.3,692.3 l-1.8,4 h3.6z M257.3,761.9 l-1.8,-4 h3.6z" fill="#3434cc"/>
<text x="213.4" y="728.9" font-size="14.7" text-anchor="start" fill="#111" textLength="42.2" lengthAdjust="spacingAndGlyphs">17mm</text>
<path d="M305,721 L272,721 A6.5,6.5 0 0 0 272,734 L305,734 Z" fill="#ececec" stroke="#444444" stroke-width="1.2"/>
<circle cx="272" cy="727.4" r="3.3" fill="#ececec" stroke="#444444" stroke-width="1.1"/>
<g transform="translate(303.8,673.7) rotate(62)"><path d="M0,-5.8 A5.8,5.8 0 0 0 0,5.8 L40,5.8 L40,-5.8 Z" fill="#ececec" stroke="#444444" stroke-width="1.2"/><circle cx="0" cy="0" r="3.1" fill="#ececec" stroke="#444444" stroke-width="1.1"/></g>
<g transform="translate(326.0,690.5) rotate(-10)"><path d="M-5,-4 L5,-4 L5,5 L-5,5 Z" fill="#ececec" stroke="#444444" stroke-width="1.1"/></g>
<g transform="translate(305.1,701.8) rotate(-47)"><path d="M-5,-4 L5,-4 L5,5 L-5,5 Z" fill="#ececec" stroke="#444444" stroke-width="1.1"/></g>
<g transform="translate(367.7,714.6) rotate(70)"><path d="M-5,-4 L5,-4 L5,5 L-5,5 Z" fill="#ececec" stroke="#444444" stroke-width="1.1"/></g>
<g transform="translate(367.3,741.4) rotate(112)"><path d="M-5,-4 L5,-4 L5,5 L-5,5 Z" fill="#ececec" stroke="#444444" stroke-width="1.1"/></g>
<g transform="translate(303.8,751.5) rotate(230)"><path d="M-5,-4 L5,-4 L5,5 L-5,5 Z" fill="#ececec" stroke="#444444" stroke-width="1.1"/></g>
<g transform="translate(326.0,764.3) rotate(190)"><path d="M-5,-4 L5,-4 L5,5 L-5,5 Z" fill="#ececec" stroke="#444444" stroke-width="1.1"/></g>
<circle cx="332.5" cy="727.4" r="34" fill="#ececec" stroke="#444444" stroke-width="1.3"/>
<circle cx="332.5" cy="727.4" r="29.6" fill="#ececec" stroke="#444444" stroke-width="1.1"/>
<polygon points="360.5,727.4 346.5,751.6 318.5,751.6 304.5,727.4 318.5,703.2 346.5,703.2" fill="#ececec" stroke="#444444" stroke-width="1.2"/>
<circle cx="332.5" cy="727.4" r="15.9" fill="#777" stroke="#444444" stroke-width="1.2"/>
<circle cx="332.5" cy="727.4" r="13" fill="#d8d8d8" stroke="#444444" stroke-width="0.8"/>
<line x1="336.7" y1="714.3" x2="376.2" y2="714.3" stroke="#dc3a48" stroke-width="1"/>
<line x1="336.7" y1="741.3" x2="376.2" y2="741.3" stroke="#dc3a48" stroke-width="1"/>
<line x1="376.2" y1="714.3" x2="376.2" y2="741.3" stroke="#dc3a48" stroke-width="1"/>
<path d="M376.2,714.3 l-1.6,3.5 h3.2z M376.2,741.3 l-1.6,-3.5 h3.2z" fill="#dc3a48"/>
<text x="377.3" y="733" font-size="12.3" text-anchor="start" fill="#111" textLength="43.9" lengthAdjust="spacingAndGlyphs">6.35mm</text>
<line x1="638.7" y1="671.9" x2="638.7" y2="765.2" stroke="#3434cc" stroke-width="1.1"/>
<path d="M638.7,671.9 l-1.8,4 h3.6z M638.7,765.2 l-1.8,-4 h3.6z" fill="#3434cc"/>
<text x="581" y="727.5" font-size="13.3" text-anchor="start" fill="#111" textLength="51.8" lengthAdjust="spacingAndGlyphs">14.5mm</text>
<path d="M683,670.5 L694.5,670.5 Q696.5,670.5 698,671.5 L702.5,675.5 Q703.8,677 704.3,680 L715.6,745 Q716.5,757 708,762 Q702,765.5 694,765.5 L682,765.5 Q674,765.5 668,762 Q659.5,757 660.8,745 L672.2,680 Q672.7,677 674,675.5 L678.5,671.5 Q680,670.5 683,670.5 Z" fill="#ececec" stroke="#666" stroke-width="1.2"/>
<line x1="661" y1="747.7" x2="715.4" y2="747.7" stroke="#666" stroke-width="1.6"/>
<line x1="660.4" y1="784.4" x2="715.6" y2="784.4" stroke="#3434cc" stroke-width="1.1"/>
<path d="M660.4,784.4 l4,-1.8 v3.6z M715.6,784.4 l-4,-1.8 v3.6z" fill="#3434cc"/>
<text x="667.6" y="798.3" font-size="11.9" text-anchor="start" fill="#111" textLength="44.1" lengthAdjust="spacingAndGlyphs">8.7mm</text>
<circle cx="856" cy="736.9" r="25.8" fill="#ececec" stroke="#555" stroke-width="1.2"/>
<circle cx="856" cy="737" r="14.6" fill="#dedede" stroke="#777" stroke-width="0.9"/>
<rect x="852.9" y="726.1" width="6.4" height="23.5" fill="#cfcfcf" stroke="#444" stroke-width="1"/>
<path d="M852.9,726 L852.9,704 L859.3,704 L859.3,726" fill="none" stroke="#dc3a48" stroke-width="1"/>
<text x="840.6" y="701.7" font-size="10.5" text-anchor="start" fill="#111" textLength="34.4" lengthAdjust="spacingAndGlyphs">1.5mm</text>
<path d="M856,722.4 L821.9,722.4 L821.9,751.6 L856,751.6" fill="none" stroke="#dc3a48" stroke-width="1"/>
<path d="M856,725.7 L887.8,725.7 L887.8,749.2 L856,749.2" fill="none" stroke="#dc3a48" stroke-width="1"/>
<text x="794.2" y="739.9" font-size="10.2" text-anchor="start" fill="#111" textLength="25.5" lengthAdjust="spacingAndGlyphs">5mm</text>
<text x="892.3" y="741.7" font-size="10" text-anchor="start" fill="#111" textLength="26.6" lengthAdjust="spacingAndGlyphs">4mm</text>
<text x="51" y="948.5" font-size="36" text-anchor="start" fill="#111" textLength="289" lengthAdjust="spacingAndGlyphs">Weight : 75g/pcs</text>
</svg></body></html>
